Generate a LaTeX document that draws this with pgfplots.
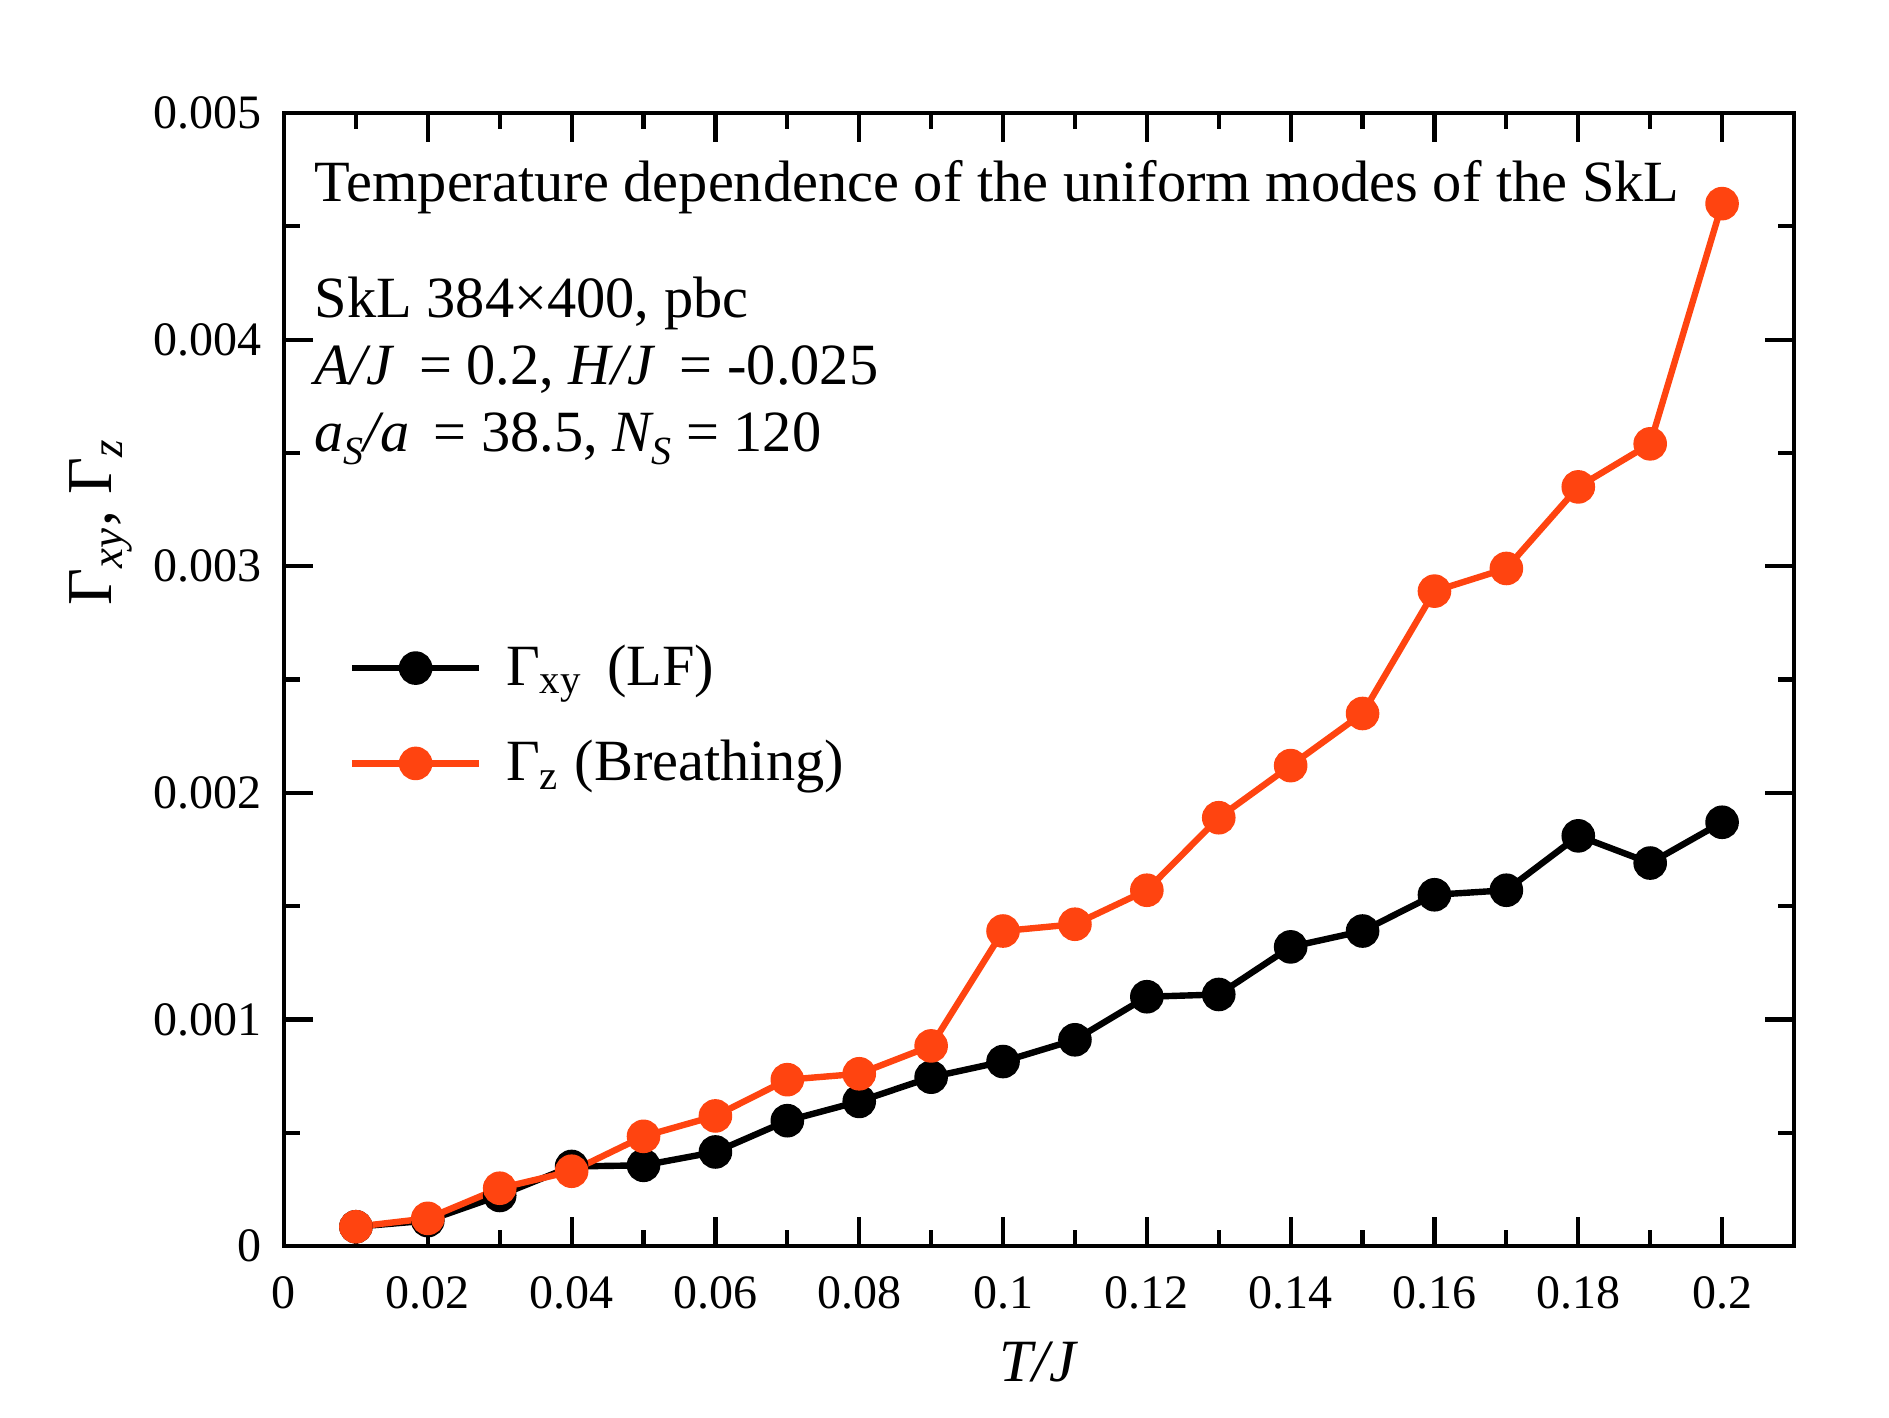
\documentclass[border=0pt]{standalone}
\usepackage{pgfplots}
\pgfplotsset{compat=1.18}
\usepackage{fontspec}
\setmainfont{Liberation Serif}
\definecolor{myorange}{RGB}{255,68,16}
\begin{document}
\begin{tikzpicture}
\path[use as bounding box] (-71pt,-42.75pt) rectangle (401.25pt,311.5pt);
\begin{axis}[
  at={(0,0)}, anchor=south west,
  scale only axis, width=377.5pt, height=283.25pt,
  xmin=0, xmax=0.21, ymin=0, ymax=0.005,
  scaled y ticks=false, scaled x ticks=false,
  xtick={0,0.02,0.04,0.06,0.08,0.1,0.12,0.14,0.16,0.18,0.2},
  xticklabels={0,0.02,0.04,0.06,0.08,0.1,0.12,0.14,0.16,0.18,0.2},
  minor xtick={0.01,0.03,0.05,0.07,0.09,0.11,0.13,0.15,0.17,0.19},
  ytick={0,0.001,0.002,0.003,0.004,0.005},
  yticklabels={0,0.001,0.002,0.003,0.004,0.005},
  minor ytick={0.0005,0.0015,0.0025,0.0035,0.0045},
  tick align=inside,
  major tick length=7.25pt, minor tick length=4pt,
  every tick/.style={black, line width=1.05pt},
  axis line style={line width=1.1pt},
  ticklabel style={font=\fontsize{12}{14}\selectfont},
  xticklabel style={yshift=-4pt},
  yticklabel style={xshift=-2pt},
  legend style={draw=none, fill=none, at={(axis description cs:0.0424,0.468)}, anchor=west,
    font=\fontsize{14.6}{17}\selectfont, row sep=8.2pt, inner sep=0pt,
    nodes={inner xsep=6pt}},
  legend cell align=left,
  legend image code/.code={\draw[mark repeat=2,mark phase=2,#1] plot coordinates {(0pt,0pt) (15.9pt,0pt) (31.75pt,0pt)};},
]
\addplot[black, line width=1.6pt, mark=*, mark size=3.4pt] coordinates {
(0.01,0.000085) (0.02,0.000112) (0.03,0.000223) (0.04,0.000351) (0.05,0.000356)
(0.06,0.000415) (0.07,0.000553) (0.08,0.000638) (0.09,0.000745) (0.10,0.000814)
(0.11,0.00091) (0.12,0.00110) (0.13,0.00111) (0.14,0.00132) (0.15,0.00139)
(0.16,0.00155) (0.17,0.00157) (0.18,0.00181) (0.19,0.00169) (0.20,0.00187)};
\addlegendentry{Γ\textsubscript{xy} \,(LF)}
\addplot[myorange, line width=1.6pt, mark=*, mark size=3.4pt] coordinates {
(0.01,0.000085) (0.02,0.000122) (0.03,0.000255) (0.04,0.00033) (0.05,0.000484)
(0.06,0.000574) (0.07,0.000734) (0.08,0.00076) (0.09,0.000883) (0.10,0.00139)
(0.11,0.00142) (0.12,0.00157) (0.13,0.00189) (0.14,0.00212) (0.15,0.00235)
(0.16,0.00289) (0.17,0.00299) (0.18,0.00335) (0.19,0.00354) (0.20,0.00460)};
\addlegendentry{Γ\textsubscript{z} (Breathing)}
\end{axis}
\begin{scope}[every node/.style={anchor=base west, inner sep=0pt, font=\fontsize{14.6}{17}\selectfont}]
\node at (7.5pt,261pt) {Temperature dependence of the uniform modes of the SkL};
\node at (7.5pt,232pt) {SkL 384×400, pbc};
\node at (7.5pt,215.25pt) {\textit{A/J} \,= 0.2, \textit{H/J} \,= -0.025};
\node at (7.5pt,198.5pt) {\textit{a\raisebox{-0.45ex}{\fontsize{10}{12}\selectfont S}/a} \,= 38.5, \textit{N\raisebox{-0.45ex}{\fontsize{10}{12}\selectfont S}} = 120};
\end{scope}
\node[anchor=base, font=\fontsize{15}{17}\selectfont] at (188.75pt,-34pt) {\textit{T/J}};
\node[rotate=90, anchor=base, font=\fontsize{16}{18}\selectfont] at (-43pt,181pt) {Γ\textsubscript{\textit{xy}}, Γ\textsubscript{\textit{z}}};
\end{tikzpicture}
\end{document}
